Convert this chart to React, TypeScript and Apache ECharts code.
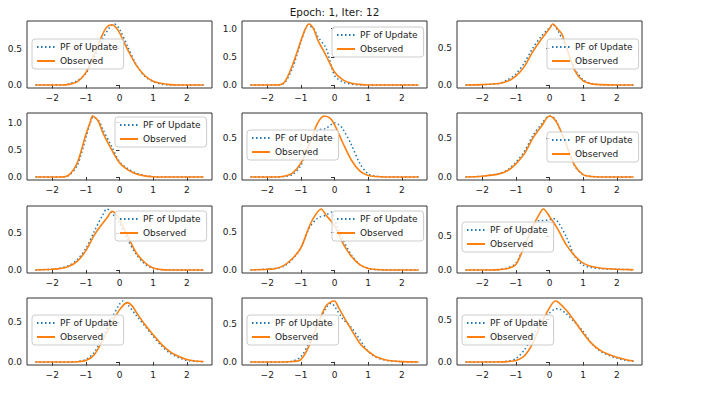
import { useEffect, useRef } from "react";
import * as echarts from "echarts";

type Pt = [number, number];

const TITLE = "Epoch: 1, Iter: 12";
const PF_NAME = "PF of Update";
const OBS_NAME = "Observed";
const X_TICKS = [-2, -1, 0, 1, 2];
const Y_TICK_CANDIDATES = [0, 0.5, 1.0];

// Row 1
const pf_r1c1: Pt[] = [[-2.5, 0], [-1.75, 0], [-1.5, 0.015], [-1.25, 0.06], [-1, 0.16], [-0.75, 0.38], [-0.5, 0.64], [-0.25, 0.82], [-0.15, 0.84], [0, 0.77], [0.25, 0.52], [0.5, 0.28], [0.75, 0.12], [1, 0.045], [1.25, 0.012], [1.5, 0], [2.5, 0]];
const obs_r1c1: Pt[] = [[-2.5, 0], [-1.75, 0], [-1.5, 0.008], [-1.25, 0.045], [-1, 0.17], [-0.75, 0.42], [-0.5, 0.7], [-0.375, 0.8], [-0.22, 0.83], [-0.1, 0.79], [0, 0.72], [0.25, 0.48], [0.5, 0.27], [0.75, 0.13], [1, 0.05], [1.25, 0.02], [1.5, 0.005], [1.75, 0], [2.5, 0]];

const pf_r1c2: Pt[] = [[-2.5, 0], [-1.75, 0], [-1.5, 0.03], [-1.25, 0.3], [-1, 0.76], [-0.875, 0.98], [-0.8, 1.06], [-0.625, 1.0], [-0.5, 0.86], [-0.25, 0.65], [0, 0.17], [0.25, 0.05], [0.5, 0.015], [0.75, 0], [2.5, 0]];
const obs_r1c2: Pt[] = [[-2.5, 0], [-1.75, 0], [-1.5, 0.04], [-1.25, 0.35], [-1, 0.78], [-0.875, 0.98], [-0.76, 1.08], [-0.625, 1.0], [-0.5, 0.8], [-0.25, 0.52], [0, 0.23], [0.25, 0.09], [0.5, 0.03], [0.75, 0.01], [1, 0], [2.5, 0]];

const pf_r1c3: Pt[] = [[-2.5, 0], [-2, 0.004], [-1.5, 0.02], [-1.25, 0.07], [-1, 0.15], [-0.75, 0.3], [-0.5, 0.5], [-0.25, 0.66], [0, 0.78], [0.1, 0.82], [0.25, 0.74], [0.5, 0.5], [0.75, 0.22], [1, 0.07], [1.25, 0.02], [1.5, 0.005], [2, 0], [2.5, 0]];
const obs_r1c3: Pt[] = [[-2.5, 0], [-2, 0.005], [-1.5, 0.02], [-1.25, 0.05], [-1, 0.12], [-0.75, 0.25], [-0.5, 0.45], [-0.25, 0.62], [0, 0.77], [0.1, 0.83], [0.25, 0.76], [0.375, 0.69], [0.5, 0.52], [0.75, 0.2], [1, 0.055], [1.25, 0.015], [1.5, 0.004], [2, 0], [2.5, 0]];

// Row 2
const pf_r2c1: Pt[] = [[-2.5, 0], [-1.75, 0], [-1.5, 0.03], [-1.25, 0.22], [-1, 0.72], [-0.875, 0.98], [-0.78, 1.1], [-0.625, 1.04], [-0.5, 0.88], [-0.25, 0.58], [0, 0.28], [0.25, 0.15], [0.5, 0.07], [0.75, 0.025], [1, 0.005], [1.25, 0], [2.5, 0]];
const obs_r2c1: Pt[] = [[-2.5, 0], [-1.75, 0], [-1.5, 0.04], [-1.25, 0.27], [-1, 0.78], [-0.875, 1.0], [-0.8, 1.12], [-0.625, 1.02], [-0.5, 0.82], [-0.25, 0.52], [0, 0.26], [0.25, 0.13], [0.5, 0.055], [0.75, 0.02], [1, 0.005], [1.25, 0], [2.5, 0]];

const pf_r2c2: Pt[] = [[-2.5, 0], [-1.75, 0], [-1.5, 0.005], [-1.25, 0.03], [-1, 0.15], [-0.75, 0.42], [-0.5, 0.6], [-0.25, 0.63], [0, 0.7], [0.125, 0.68], [0.25, 0.62], [0.5, 0.42], [0.75, 0.18], [1, 0.04], [1.25, 0.008], [1.5, 0], [2.5, 0]];
const obs_r2c2: Pt[] = [[-2.5, 0], [-1.75, 0], [-1.5, 0.01], [-1.25, 0.05], [-1, 0.18], [-0.75, 0.42], [-0.5, 0.7], [-0.3, 0.79], [-0.125, 0.76], [0, 0.68], [0.25, 0.44], [0.5, 0.22], [0.75, 0.08], [1, 0.02], [1.25, 0.005], [1.5, 0], [2.5, 0]];

const pf_r2c3: Pt[] = [[-2.5, 0], [-2, 0.01], [-1.5, 0.045], [-1.25, 0.09], [-1, 0.19], [-0.75, 0.33], [-0.5, 0.53], [-0.25, 0.68], [0, 0.79], [0.125, 0.77], [0.25, 0.68], [0.5, 0.42], [0.75, 0.14], [1, 0.03], [1.25, 0.005], [1.5, 0], [2.5, 0]];
const obs_r2c3: Pt[] = [[-2.5, 0], [-2, 0.01], [-1.5, 0.04], [-1.25, 0.08], [-1, 0.17], [-0.75, 0.3], [-0.5, 0.5], [-0.375, 0.58], [-0.25, 0.65], [0, 0.79], [0.125, 0.76], [0.25, 0.68], [0.5, 0.42], [0.75, 0.15], [1, 0.03], [1.25, 0.005], [1.5, 0], [2.5, 0]];

// Row 3
const pf_r3c1: Pt[] = [[-2.5, 0], [-2, 0.01], [-1.75, 0.025], [-1.5, 0.06], [-1.25, 0.14], [-1, 0.29], [-0.75, 0.52], [-0.5, 0.74], [-0.375, 0.82], [-0.25, 0.78], [0, 0.62], [0.25, 0.4], [0.5, 0.21], [0.75, 0.08], [1, 0.02], [1.25, 0.004], [1.5, 0], [2.5, 0]];
const obs_r3c1: Pt[] = [[-2.5, 0], [-2, 0.01], [-1.75, 0.02], [-1.5, 0.05], [-1.25, 0.12], [-1, 0.26], [-0.75, 0.47], [-0.5, 0.63], [-0.375, 0.7], [-0.22, 0.79], [-0.1, 0.75], [0, 0.68], [0.25, 0.45], [0.5, 0.23], [0.75, 0.1], [1, 0.025], [1.25, 0.005], [1.5, 0], [2.5, 0]];

const pf_r3c2: Pt[] = [[-2.5, 0], [-2, 0.01], [-1.75, 0.02], [-1.5, 0.05], [-1.25, 0.14], [-1, 0.29], [-0.75, 0.55], [-0.5, 0.68], [-0.25, 0.72], [-0.1, 0.76], [0, 0.66], [0.25, 0.4], [0.5, 0.2], [0.75, 0.07], [1, 0.02], [1.25, 0.004], [1.5, 0], [2.5, 0]];
const obs_r3c2: Pt[] = [[-2.5, 0], [-2, 0.01], [-1.75, 0.02], [-1.5, 0.06], [-1.25, 0.15], [-1, 0.29], [-0.75, 0.57], [-0.6, 0.7], [-0.4, 0.8], [-0.25, 0.72], [0, 0.58], [0.25, 0.35], [0.5, 0.18], [0.75, 0.07], [1, 0.02], [1.25, 0.005], [1.5, 0], [2.5, 0]];

const pf_r3c3: Pt[] = [[-2.5, 0], [-1.75, 0], [-1.5, 0.005], [-1.25, 0.03], [-1, 0.1], [-0.75, 0.36], [-0.5, 0.62], [-0.375, 0.72], [-0.25, 0.73], [0, 0.74], [0.1, 0.76], [0.25, 0.71], [0.5, 0.49], [0.75, 0.2], [1, 0.07], [1.25, 0.035], [1.5, 0.02], [2, 0.01], [2.5, 0.003]];
const obs_r3c3: Pt[] = [[-2.5, 0], [-1.75, 0], [-1.5, 0.005], [-1.25, 0.02], [-1, 0.08], [-0.75, 0.35], [-0.5, 0.64], [-0.25, 0.87], [-0.18, 0.9], [0, 0.79], [0.25, 0.6], [0.5, 0.37], [0.75, 0.21], [1, 0.1], [1.25, 0.05], [1.5, 0.03], [1.75, 0.018], [2, 0.01], [2.25, 0.006], [2.5, 0.004]];

// Row 4
const pf_r4c1: Pt[] = [[-2.5, 0], [-1.5, 0], [-1.25, 0.005], [-1, 0.03], [-0.75, 0.12], [-0.5, 0.31], [-0.25, 0.53], [0, 0.72], [0.1, 0.76], [0.25, 0.71], [0.5, 0.58], [0.75, 0.45], [1, 0.32], [1.25, 0.2], [1.5, 0.11], [1.75, 0.055], [2, 0.02], [2.25, 0.007], [2.5, 0.002]];
const obs_r4c1: Pt[] = [[-2.5, 0], [-1.5, 0], [-1.25, 0.003], [-1, 0.017], [-0.75, 0.09], [-0.5, 0.27], [-0.25, 0.47], [0, 0.65], [0.23, 0.74], [0.375, 0.7], [0.5, 0.62], [0.75, 0.47], [1, 0.34], [1.25, 0.22], [1.5, 0.13], [1.75, 0.07], [2, 0.03], [2.25, 0.012], [2.5, 0.005]];

const pf_r4c2: Pt[] = [[-2.5, 0], [-1.5, 0], [-1.25, 0.01], [-1, 0.07], [-0.75, 0.26], [-0.5, 0.5], [-0.25, 0.72], [-0.1, 0.78], [0, 0.74], [0.25, 0.57], [0.5, 0.46], [0.75, 0.3], [1, 0.14], [1.25, 0.06], [1.5, 0.025], [1.75, 0.01], [2, 0.003], [2.5, 0]];
const obs_r4c2: Pt[] = [[-2.5, 0], [-1.5, 0], [-1.25, 0.005], [-1, 0.03], [-0.75, 0.22], [-0.5, 0.5], [-0.25, 0.75], [-0.1, 0.8], [0, 0.81], [0.125, 0.72], [0.25, 0.62], [0.5, 0.43], [0.75, 0.25], [1, 0.14], [1.1, 0.11], [1.25, 0.065], [1.5, 0.03], [1.75, 0.012], [2, 0.005], [2.5, 0]];

const pf_r4c3: Pt[] = [[-2.5, 0], [-1.5, 0.002], [-1.25, 0.01], [-1, 0.04], [-0.75, 0.14], [-0.5, 0.3], [-0.25, 0.48], [0, 0.58], [0.2, 0.63], [0.25, 0.63], [0.5, 0.57], [0.75, 0.47], [1, 0.36], [1.25, 0.22], [1.5, 0.13], [1.75, 0.08], [2, 0.045], [2.25, 0.02], [2.5, 0.008]];
const obs_r4c3: Pt[] = [[-2.5, 0], [-1.5, 0], [-1.25, 0.004], [-1, 0.017], [-0.75, 0.07], [-0.5, 0.22], [-0.25, 0.45], [0, 0.64], [0.17, 0.72], [0.25, 0.71], [0.5, 0.61], [0.75, 0.48], [1, 0.34], [1.25, 0.22], [1.5, 0.14], [1.75, 0.09], [2, 0.055], [2.25, 0.03], [2.5, 0.012]];

const pfUpdate: Pt[][] = [
  pf_r1c1, pf_r1c2, pf_r1c3,
  pf_r2c1, pf_r2c2, pf_r2c3,
  pf_r3c1, pf_r3c2, pf_r3c3,
  pf_r4c1, pf_r4c2, pf_r4c3,
];
const observed: Pt[][] = [
  obs_r1c1, obs_r1c2, obs_r1c3,
  obs_r2c1, obs_r2c2, obs_r2c3,
  obs_r3c1, obs_r3c2, obs_r3c3,
  obs_r4c1, obs_r4c2, obs_r4c3,
];

// Layout of the 4 x 3 panel grid (pixels)
const COL_LEFT = [27, 242, 457];
const ROW_TOP = [21, 113, 206, 298];
const PLOT_W = 185;
const PLOT_H = 67;
const LEGEND_POS: [number, number][] = [
  [32, 39], [332, 27], [547, 39],
  [115, 117], [247, 130], [547, 132],
  [115, 211], [332, 211], [462, 222],
  [32, 315], [247, 315], [462, 315],
];

const FONT = "DejaVu Sans";
const BLUE = "#1f77b4";
const ORANGE = "#ff7f0e";
const FRAME = "#333333";

const fmtX = (v: number) => (v < 0 ? "\u2212" + Math.abs(v) : String(v));

export default function App() {
  const ref = useRef<HTMLDivElement>(null);

  useEffect(() => {
    if (!ref.current) return;
    const chart = echarts.init(ref.current, undefined, { renderer: "svg" });

    const grids: any[] = [];
    const xAxes: any[] = [];
    const yAxes: any[] = [];
    const series: any[] = [];
    const legends: any[] = [];

    pfUpdate.forEach((pf, i) => {
      const obs = observed[i];
      const row = Math.floor(i / 3);
      const col = i % 3;
      let hi = 0;
      let lo = Infinity;
      [...pf, ...obs].forEach(([, y]) => {
        hi = Math.max(hi, y);
        lo = Math.min(lo, y);
      });
      const span = hi - lo;
      const yMin = lo - 0.05 * span;
      const yMax = hi + 0.05 * span;
      const yTicks = Y_TICK_CANDIDATES.filter((v) => v >= yMin && v <= yMax);

      grids.push({
        left: COL_LEFT[col],
        top: ROW_TOP[row],
        width: PLOT_W,
        height: PLOT_H,
        show: true,
        borderColor: FRAME,
        borderWidth: 1,
        backgroundColor: "transparent",
        containLabel: false,
      });
      xAxes.push({
        type: "value",
        gridIndex: i,
        min: -2.75,
        max: 2.75,
        axisLine: { show: false },
        splitLine: { show: false },
        axisTick: { show: true, length: 3.5, customValues: X_TICKS, lineStyle: { color: FRAME, width: 1 } },
        axisLabel: {
          customValues: X_TICKS,
          formatter: fmtX,
          margin: 5,
          fontSize: 9,
          color: "#1a1a1a",
          fontFamily: FONT,
        },
      });
      yAxes.push({
        type: "value",
        gridIndex: i,
        min: yMin,
        max: yMax,
        axisLine: { show: false },
        splitLine: { show: false },
        axisTick: { show: true, length: 3.5, customValues: yTicks, lineStyle: { color: FRAME, width: 1 } },
        axisLabel: {
          customValues: yTicks,
          formatter: (v: number) => v.toFixed(1),
          margin: 5,
          fontSize: 9,
          color: "#1a1a1a",
          fontFamily: FONT,
        },
      });
      series.push({
        type: "line",
        name: PF_NAME,
        xAxisIndex: i,
        yAxisIndex: i,
        data: pf,
        symbol: "none",
        showSymbol: false,
        smooth: 0.3,
        lineStyle: { color: BLUE, width: 1.5, type: [1.5, 2.5] },
        itemStyle: { color: BLUE },
        z: 2,
      });
      series.push({
        type: "line",
        name: OBS_NAME,
        xAxisIndex: i,
        yAxisIndex: i,
        data: obs,
        symbol: "none",
        showSymbol: false,
        smooth: 0.3,
        lineStyle: { color: ORANGE, width: 1.6 },
        itemStyle: { color: ORANGE },
        z: 3,
      });
      const [lx, ly] = LEGEND_POS[i];
      legends.push({
        left: lx,
        top: ly,
        orient: "vertical",
        data: [PF_NAME, OBS_NAME],
        itemWidth: 18,
        itemHeight: 10,
        itemGap: 4,
        padding: [3, 6, 3, 4],
        backgroundColor: "rgba(255,255,255,0.8)",
        borderColor: "#cccccc",
        borderWidth: 1,
        borderRadius: 3,
        selectedMode: false,
        itemStyle: { opacity: 0 },
        textStyle: { fontSize: 9, fontFamily: FONT, color: "#1a1a1a", lineHeight: 10 },
        z: 10,
      });
    });

    chart.setOption({
      animation: false,
      backgroundColor: "#ffffff",
      title: {
        text: TITLE,
        left: 334.5,
        top: 7,
        textAlign: "center",
        padding: 0,
        textStyle: { fontSize: 10.4, fontWeight: "normal", color: "#1a1a1a", fontFamily: FONT },
      },
      grid: grids,
      xAxis: xAxes,
      yAxis: yAxes,
      legend: legends,
      series,
    });

    return () => chart.dispose();
  }, []);

  return (
    <div
      ref={ref}
      style={{ position: "fixed", left: 0, top: 0, width: 722, height: 413 }}
    />
  );
}
